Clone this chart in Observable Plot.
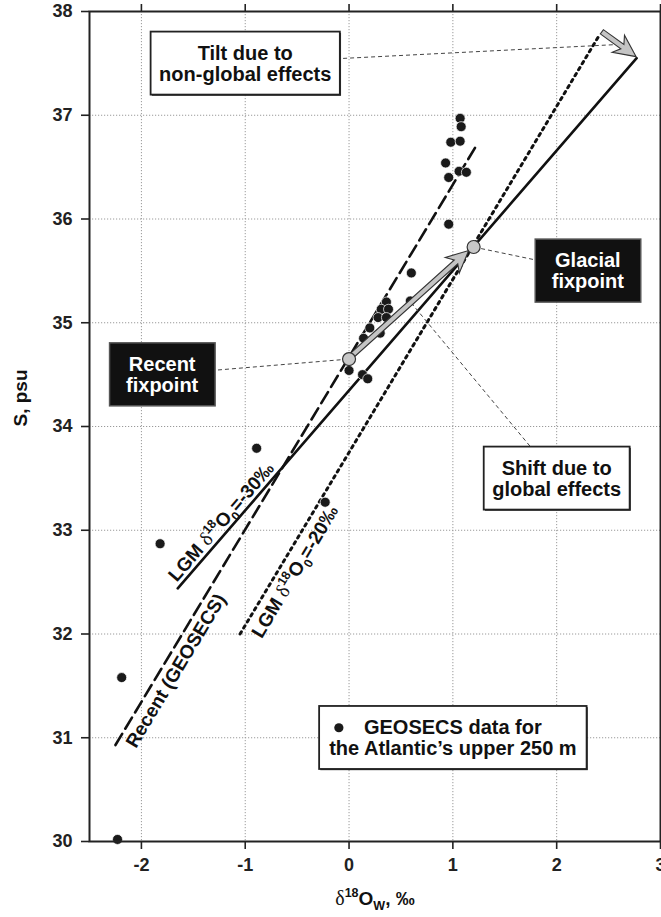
<!DOCTYPE html>
<html><head><meta charset="utf-8">
<script src="https://cdn.jsdelivr.net/npm/d3@7"></script>
<script src="https://cdn.jsdelivr.net/npm/@observablehq/plot@0.6"></script>
<style>
html,body{margin:0;padding:0;background:#fff;overflow:hidden}
svg{display:block}
</style></head><body>
<div id="chart"></div>
<script>
// ---------- data ----------
const xTicks = [-2, -1, 0, 1, 2, 3];
const yTicks = [30, 31, 32, 33, 34, 35, 36, 37, 38];

// GEOSECS data for the Atlantic's upper 250 m
const geosecsX = [1.07, 1.08, 0.98, 1.07, 0.93, 0.96, 1.06, 1.13, 0.96, 0.60, 0.59, 0.36, 0.31, 0.38, 0.28, 0.36, 0.20, 0.30, 0.14, 0.00, 0.13, 0.18, -0.89, -1.82, -0.23, -2.19, -2.23];
const geosecsY = [36.97, 36.89, 36.74, 36.75, 36.54, 36.40, 36.46, 36.45, 35.95, 35.48, 35.21, 35.20, 35.13, 35.13, 35.05, 35.05, 34.95, 34.90, 34.85, 34.54, 34.50, 34.46, 33.79, 32.87, 33.27, 31.58, 30.02];

// regression lines (end points)
const recentLineX = [-2.25, 1.24];  const recentLineY = [30.93, 36.73];
const lgm30LineX  = [-1.65, 2.77];  const lgm30LineY  = [32.44, 37.55];
const lgm20LineX  = [-1.05, 2.41];  const lgm20LineY  = [32.00, 37.77];

// fixpoints
const fixNames = ["Recent", "Glacial"];
const fixX = [0.00, 1.20];
const fixY = [34.65, 35.73];

// tilt arrow (dotted line end -> solid line end)
const tiltFromX = 2.44, tiltFromY = 37.80, tiltToX = 2.77, tiltToY = 37.56;

// line labels
const lineLabelText = ["Recent (GEOSECS)", "LGM δ^18^O_0_=-30‰", "LGM δ^18^O_0_=-20‰"];
const lineLabelX = [-1.667, -1.23, -0.52];
const lineLabelY = [31.646, 33.08, 32.60];

// annotation boxes
const annoText = ["Tilt due to\nnon-global effects", "Recent\nfixpoint", "Glacial\nfixpoint", "Shift due to\nglobal effects", "GEOSECS data for\nthe Atlantic’s upper 250 m"];
const annoKind = ["white", "black", "black", "white", "legend"];
const annoX = [-1.0, -1.8, 2.3, 2.0, 1.0];
const annoY = [37.5, 34.5, 35.5, 33.5, 31.0];
const annoTargetX = [2.55, 0.00, 1.20, 0.60, null];
const annoTargetY = [37.68, 34.65, 35.73, 35.19, null];

const xLabel = "δ^18^O_W_, ‰";
const yLabel = "S, psu";

// ---------- layout ----------
const W = 661, H = 917, ML = 89, MR = 1, MT = 11, MB = 76;
const xDomain = [-2.5, 3], yDomain = [30, 38];
const FONT = "'Liberation Sans', Arial, Helvetica, sans-serif";
const pxX = (W - ML - MR) / (xDomain[1] - xDomain[0]);
const pxY = (H - MT - MB) / (yDomain[1] - yDomain[0]);
const angleOf = (xs, ys) => -Math.atan2((ys[1] - ys[0]) * pxY, (xs[1] - xs[0]) * pxX) * 180 / Math.PI;
const fmt = d => String(d);

const points = geosecsX.map((x, i) => ({x, y: geosecsY[i]}));
const mkLine = (xs, ys) => xs.map((x, i) => ({x, y: ys[i]}));
const recentLine = mkLine(recentLineX, recentLineY);
const lgm30Line = mkLine(lgm30LineX, lgm30LineY);
const lgm20Line = mkLine(lgm20LineX, lgm20LineY);
const fixpoints = fixNames.map((n, i) => ({name: n, x: fixX[i], y: fixY[i]}));
const lineAngles = [angleOf(recentLineX, recentLineY), angleOf(lgm30LineX, lgm30LineY), angleOf(lgm20LineX, lgm20LineY)];
const lineLabels = lineLabelText.map((t, i) => ({text: t, x: lineLabelX[i], y: lineLabelY[i], angle: lineAngles[i]}));
const annos = annoText.map((t, i) => ({text: t, kind: annoKind[i], x: annoX[i], y: annoY[i], tx: annoTargetX[i], ty: annoTargetY[i]}));
const leaders = annos.filter(a => a.tx != null);
const shiftArrow = [{x1: fixX[0], y1: fixY[0], x2: fixX[1], y2: fixY[1]}];
const tiltArrow = [{x1: tiltFromX, y1: tiltFromY, x2: tiltToX, y2: tiltToY}];

function blockArrow(data, inset) {
  return function(index, scales) {
    const g = d3.create("svg:g");
    for (const i of index) {
      const d = data[i];
      const ax = scales.x(d.x1), ay = scales.y(d.y1);
      let bx = scales.x(d.x2), by = scales.y(d.y2);
      const dx = bx - ax, dy = by - ay, len = Math.hypot(dx, dy);
      const ux = dx / len, uy = dy / len, nx = -uy, ny = ux;
      bx -= ux * inset; by -= uy * inset;
      const L = len - inset, w = 2.6, hw = 10.5, hl = 17, barb = 5;
      const P = (s, t) => [bx + ux * s + nx * t, by + uy * s + ny * t].map(v => v.toFixed(2)).join(",");
      const pts = [P(-L, w), P(-hl, w), P(-hl - barb, hw), P(0, 0), P(-hl - barb, -hw), P(-hl, -w), P(-L, -w)];
      g.append("path").attr("d", "M" + pts.join("L") + "Z")
        .attr("fill", "#c4c4c4").attr("stroke", "#333").attr("stroke-width", 1.1).attr("stroke-linejoin", "miter");
    }
    return g.node();
  };
}

const plot = Plot.plot({
  width: W, height: H,
  marginLeft: ML, marginRight: MR, marginTop: MT, marginBottom: MB,
  style: {fontFamily: FONT, background: "#fff", overflow: "visible"},
  x: {domain: xDomain},
  y: {domain: yDomain},
  marks: [
    Plot.gridX(xTicks, {stroke: "#9a9a9a", strokeOpacity: 1, strokeWidth: 1, strokeDasharray: "1.2,1.8"}),
    Plot.gridY(yTicks, {stroke: "#9a9a9a", strokeOpacity: 1, strokeWidth: 1, strokeDasharray: "1.2,1.8"}),
    // lines
    Plot.line(recentLine, {x: "x", y: "y", stroke: "#111", strokeWidth: 2.6, strokeDasharray: "13,6"}),
    Plot.line(lgm30Line, {x: "x", y: "y", stroke: "#111", strokeWidth: 2.6}),
    Plot.line(lgm20Line, {x: "x", y: "y", stroke: "#111", strokeWidth: 3, strokeDasharray: "2.6,4.4"}),
    // data
    Plot.dot(points, {x: "x", y: "y", r: 5, fill: "#1a1a1a", stroke: "#fff", strokeWidth: 0.7}),
    // leaders
    Plot.link(leaders, {x1: "x", y1: "y", x2: "tx", y2: "ty", stroke: "#444", strokeWidth: 1, strokeDasharray: "4,3"}),
    // arrows
    Plot.link(shiftArrow, {x1: "x1", y1: "y1", x2: "x2", y2: "y2", render: blockArrow(shiftArrow, 6)}),
    Plot.link(tiltArrow, {x1: "x1", y1: "y1", x2: "x2", y2: "y2", render: blockArrow(tiltArrow, 0)}),
    Plot.dot(fixpoints, {x: "x", y: "y", r: 6.5, fill: "#c8c8c8", stroke: "#333", strokeWidth: 1.2}),
    // annotation texts (boxes added afterwards from text bounds)
    Plot.text(annos, {x: "x", y: "y", text: "text", fontSize: 20, fontWeight: "bold", lineHeight: 1.05,
      fill: d => d.kind === "black" ? "#fff" : "#111"}),
    Plot.dot(annos.filter(a => a.kind === "legend"), {x: "x", y: "y", dx: -114, dy: -10, r: 4.6, fill: "#1a1a1a"}),
    // line labels
    Plot.text(lineLabels, {x: "x", y: "y", text: "text", rotate: "angle", fontSize: 19, fontWeight: "bold", fill: "#111"}),
    // axes
    Plot.axisY(yTicks, {anchor: "left", tickSize: 8, tickPadding: 9, tickFormat: fmt, fontSize: 18, fontWeight: "bold", label: null, color: "#222", strokeWidth: 1.6}),
    Plot.axisY(yTicks, {anchor: "right", tickSize: 8, tickFormat: () => "", label: null, color: "#222", strokeWidth: 1.6}),
    Plot.axisX(xTicks, {anchor: "bottom", tickSize: 8, tickPadding: 9, tickFormat: fmt, fontSize: 18, fontWeight: "bold", label: null, color: "#222", strokeWidth: 1.6}),
    Plot.axisX(xTicks, {anchor: "top", tickSize: 8, tickFormat: () => "", label: null, color: "#222", strokeWidth: 1.6}),
    Plot.frame({stroke: "#222", strokeWidth: 2}),
    Plot.text([yLabel], {frameAnchor: "left", dx: -69, rotate: -90, text: d => d, fontSize: 19, fontWeight: "bold", fill: "#111"}),
    Plot.text([xLabel], {frameAnchor: "bottom", dy: 63, text: d => d, fontSize: 19, fontWeight: "bold", fill: "#111"})
  ]
});

document.getElementById("chart").append(plot);

// ---------- post-processing: rich text ----------
function rich(el, str, base) {
  el.textContent = "";
  const parts = [];
  let mode = "n", buf = "";
  const flush = () => { if (buf) parts.push({t: buf, m: mode}); buf = ""; };
  for (const ch of str) {
    if (ch === "^") { flush(); mode = mode === "sup" ? "n" : "sup"; }
    else if (ch === "_") { flush(); mode = mode === "sub" ? "n" : "sub"; }
    else if (ch === "δ") { flush(); parts.push({t: "δ", m: "greek"}); }
    else buf += ch;
  }
  flush();
  let cur = 0;
  for (const p of parts) {
    const target = p.m === "sup" ? -0.42 * base : p.m === "sub" ? 0.28 * base : 0;
    const ts = document.createElementNS("http://www.w3.org/2000/svg", "tspan");
    ts.textContent = p.t;
    if (target - cur !== 0) ts.setAttribute("dy", (target - cur).toFixed(2));
    cur = target;
    if (p.m === "sup" || p.m === "sub") ts.setAttribute("font-size", (base * 0.66).toFixed(1));
    if (p.m === "greek") { ts.setAttribute("font-family", "'Liberation Serif', 'DejaVu Serif', serif"); ts.setAttribute("font-weight", "normal"); ts.setAttribute("font-size", (base * 1.05).toFixed(1)); }
    el.appendChild(ts);
  }
}
const richStrings = [...lineLabelText, xLabel].filter(s => /[\^_δ]/.test(s));
d3.select(plot).selectAll("text").each(function() {
  const s = this.textContent;
  if (richStrings.includes(s)) rich(this, s, 19);
});

// ---------- post-processing: annotation boxes ----------
const boxStyle = {
  white: {padX: 8.5, fill: "#fff", stroke: "#222", sw: 1.8, shadow: true},
  legend: {padX: 10, fill: "#fff", stroke: "#222", sw: 1.8, shadow: true},
  black: {padX: 16.5, fill: "#111", stroke: "#555", sw: 1.5, shadow: false}
};
const annoByText = new Map(annos.map(a => [a.text.replace(/\n/g, ""), a]));
d3.select(plot).selectAll("text").each(function() {
  const a = annoByText.get(this.textContent);
  if (!a) return;
  const st = boxStyle[a.kind];
  const bb = this.getBBox();
  const bh = 63, bw = bb.width + 2 * st.padX;
  const cx = bb.x + bb.width / 2, cy = bb.y + bb.height / 2;
  const parent = this.parentNode;
  const tr = this.getAttribute("transform");
  const mk = (ox, oy, fill, stroke, sw) => {
    const r = document.createElementNS("http://www.w3.org/2000/svg", "rect");
    r.setAttribute("x", (cx - bw / 2 + ox).toFixed(2));
    r.setAttribute("y", (cy - bh / 2 + oy).toFixed(2));
    r.setAttribute("width", bw.toFixed(2));
    r.setAttribute("height", bh);
    r.setAttribute("fill", fill);
    if (stroke) { r.setAttribute("stroke", stroke); r.setAttribute("stroke-width", sw); }
    if (tr) r.setAttribute("transform", tr);
    parent.insertBefore(r, this);
  };
  if (st.shadow) mk(1.2, 1.2, "#333", null, 0);
  mk(0, 0, st.fill, st.stroke, st.sw);
});
</script>
</body></html>
